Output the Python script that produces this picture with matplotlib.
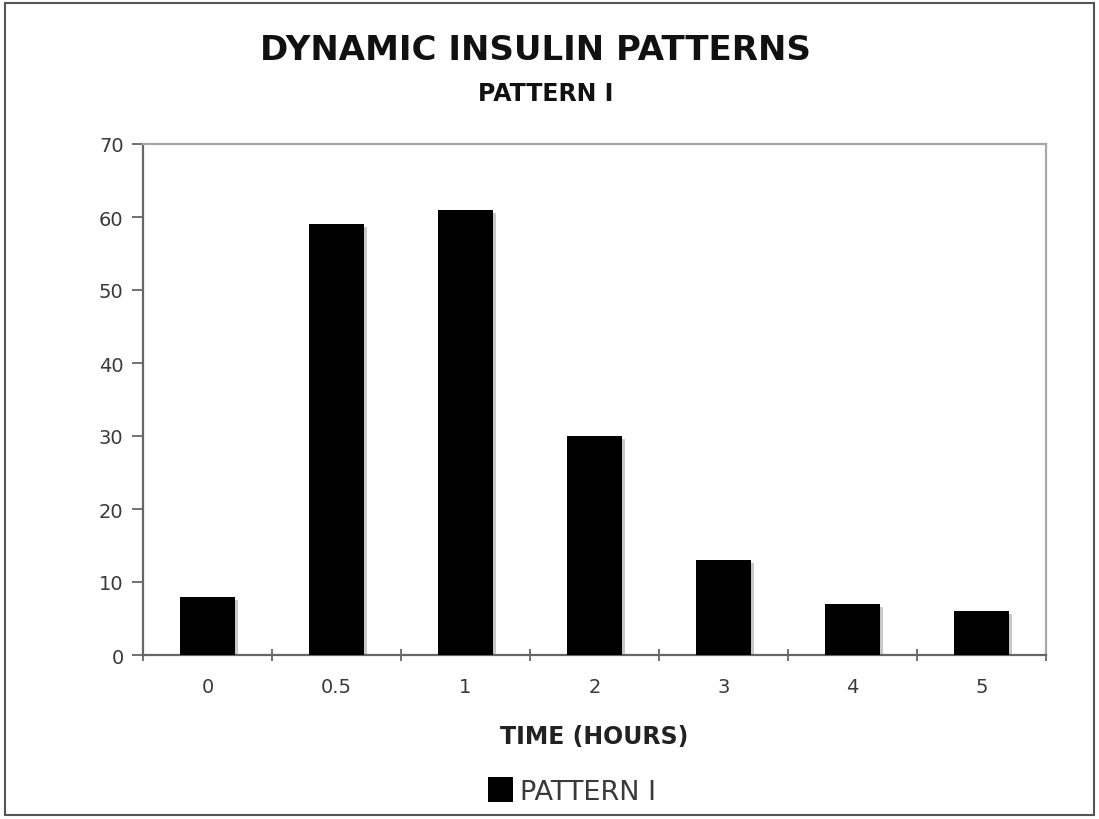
import matplotlib
matplotlib.use("Agg")
import matplotlib.pyplot as plt
from matplotlib.patches import Rectangle

categories = ["0", "0.5", "1", "2", "3", "4", "5"]
values = [8, 59, 61, 30, 13, 7, 6]
yticks = [0, 10, 20, 30, 40, 50, 60, 70]

title = "DYNAMIC INSULIN PATTERNS"
subtitle = "PATTERN I"
xlabel = "TIME (HOURS)"
series_name = "PATTERN I"

W, H = 1099, 820
fig = plt.figure(figsize=(W / 100, H / 100), dpi=100)
fig.patch.set_facecolor("white")

# outer border
fig.patches.append(Rectangle((5 / W, 4 / H), 1089 / W, 812 / H, transform=fig.transFigure,
                             fill=False, edgecolor="#555555", linewidth=1.5))

ax = fig.add_axes([143 / W, 1 - 656 / H, (1046 - 143) / W, (656 - 145) / H])
x = list(range(len(categories)))
# subtle shadow
ax.bar([i + 0.02 for i in x], [v - 0.4 for v in values], width=0.43, color="#c8c8c8", zorder=2)
ax.bar(x, values, width=0.43, color="black", label=series_name, zorder=3)

ax.set_xlim(-0.5, len(categories) - 0.5)
ax.set_ylim(0, 70)
ax.set_yticks(yticks)
ax.set_xticks(x)
ax.set_xticklabels(categories)
ax.set_xticks([i - 0.5 for i in range(len(categories) + 1)], minor=True)
ax.tick_params(axis="x", which="major", length=0, pad=16, labelsize=14, labelcolor="#3a3a3a")
ax.tick_params(axis="x", which="minor", length=8, direction="inout", color="#666666", width=1.3)
ax.tick_params(axis="y", length=8, direction="out", color="#666666", width=1.3,
               labelsize=14, labelcolor="#3a3a3a", pad=6)

for s in ["left", "bottom"]:
    ax.spines[s].set_color("#666666")
    ax.spines[s].set_linewidth(1.6)
for s in ["top", "right"]:
    ax.spines[s].set_color("#a8a8a8")
    ax.spines[s].set_linewidth(1.6)

fig.text(0.5 * (143 + 1046) / W, 1 - 737 / H, xlabel, ha="center", va="center",
         fontsize=17, fontweight="bold", color="#222222")

fig.text(535 / W, 1 - 51 / H, title, ha="center", va="center", fontsize=24.5, fontweight="bold", color="#111111")
fig.text(546 / W, 1 - 94 / H, subtitle, ha="center", va="center", fontsize=17, fontweight="bold", color="#111111")

fig.legend(loc="center", bbox_to_anchor=(572 / W, 1 - 792 / H), frameon=False, fontsize=19.5,
           handlelength=0.9, handleheight=1.0, handletextpad=0.25, labelcolor="#3a3a3a")

fig.savefig("out.png", dpi=100, facecolor="white")
